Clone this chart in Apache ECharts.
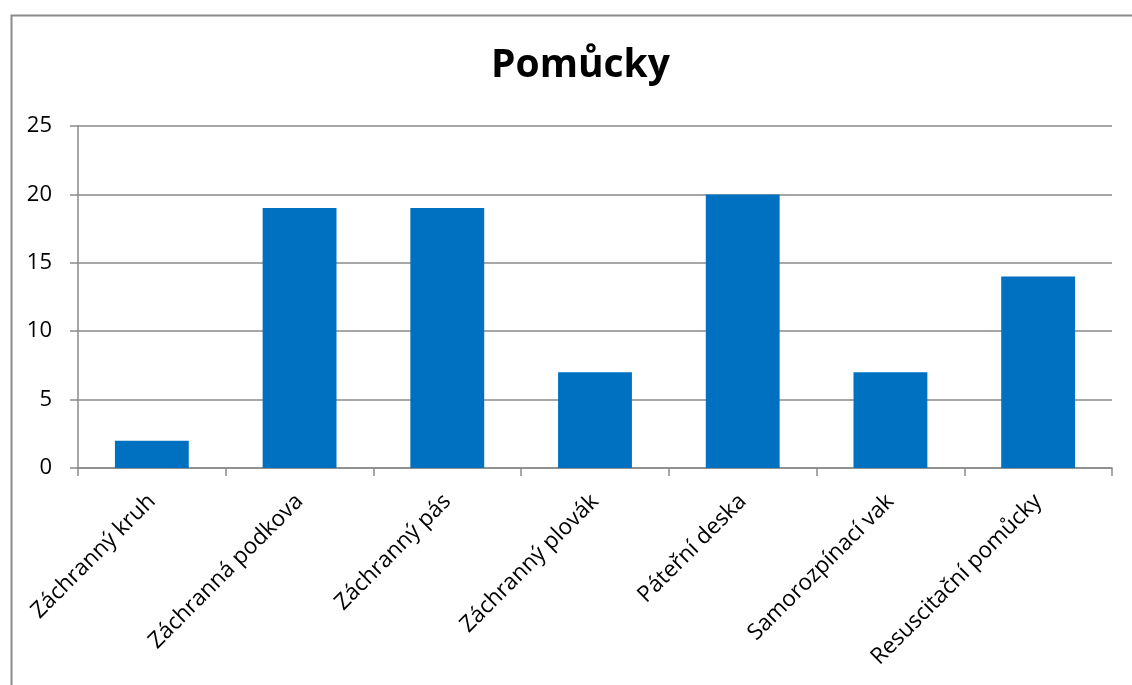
<!DOCTYPE html>
<html>
<head>
<meta charset="utf-8">
<title>Pomůcky</title>
<script src="https://cdn.jsdelivr.net/npm/echarts@6/dist/echarts.min.js"></script>
<style>
  html, body { margin: 0; padding: 0; background: #ffffff; }
  #chart { width: 1132px; height: 685px; }
</style>
</head>
<body>
<div id="chart"></div>
<script>
// Rescue equipment counts
const categories = [
  'Záchranný kruh',
  'Záchranná podkova',
  'Záchranný pás',
  'Záchranný plovák',
  'Páteřní deska',
  'Samorozpínací vak',
  'Resuscitační pomůcky'
];
const counts = [2, 19, 19, 7, 20, 7, 14];
const yTicks = { min: 0, max: 25, interval: 5 };

const FONT = '"Open Sans", "Noto Sans", sans-serif';
const GRAY = '#8a8a8a';

const chart = echarts.init(document.getElementById('chart'), null, { renderer: 'canvas' });
chart.setOption({
  animation: false,
  backgroundColor: '#ffffff',
  graphic: [{
    type: 'rect',
    left: 9, top: 13,
    shape: { width: 1200, height: 800 },
    style: { fill: 'none', stroke: GRAY, lineWidth: 2 },
    silent: true
  }],
  title: {
    text: 'Pomůcky',
    left: 486,
    top: 41,
    textStyle: { fontFamily: FONT, fontWeight: 'bold', fontSize: 39, color: '#000' }
  },
  grid: { left: 78, right: 20, top: 126, bottom: 217, containLabel: false },
  xAxis: {
    type: 'category',
    data: categories,
    boundaryGap: true,
    axisLine: { lineStyle: { color: GRAY, width: 1.5 } },
    axisTick: { show: true, length: 8, alignWithLabel: false, lineStyle: { color: GRAY, width: 1.5 } },
    axisLabel: {
      rotate: 45,
      interval: 0,
      margin: 30,
      fontFamily: FONT,
      fontSize: 22.5,
      color: '#000'
    }
  },
  yAxis: {
    type: 'value',
    min: yTicks.min,
    max: yTicks.max,
    interval: yTicks.interval,
    axisLine: { show: true, lineStyle: { color: GRAY, width: 1.5 } },
    axisTick: { show: true, length: 8, lineStyle: { color: GRAY, width: 1.5 } },
    splitLine: { show: true, lineStyle: { color: GRAY, width: 1.5 } },
    axisLabel: { margin: 26, fontFamily: FONT, fontSize: 22, color: '#000' }
  },
  series: [{
    type: 'bar',
    data: counts,
    barWidth: '50%',
    itemStyle: { color: '#0070C0' }
  }]
});
</script>
</body>
</html>
